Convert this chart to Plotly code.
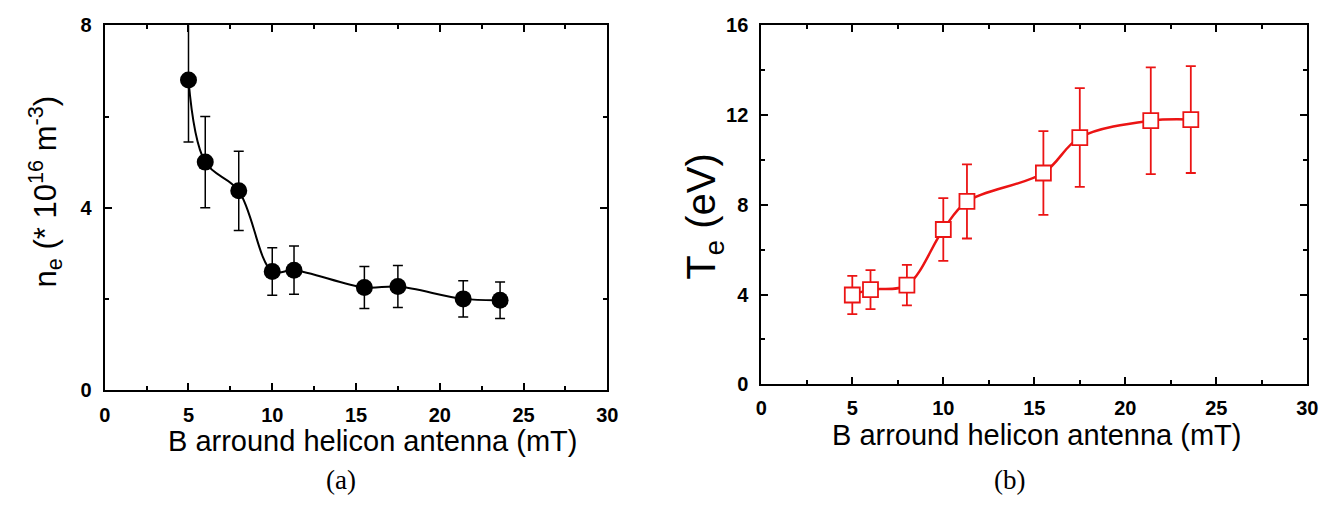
import plotly.graph_objects as go

# ---- data ----
B_field = [5, 6, 8, 10, 11.3, 15.5, 17.5, 21.4, 23.6]
n_e = [6.8, 5.0, 4.37, 2.6, 2.63, 2.25, 2.27, 2.0, 1.97]
n_e_err = [1.36, 1.0, 0.87, 0.52, 0.53, 0.46, 0.46, 0.4, 0.4]
T_e = [3.98, 4.22, 4.42, 6.9, 8.15, 9.42, 11.0, 11.75, 11.8]
T_e_err = [0.85, 0.87, 0.9, 1.4, 1.65, 1.87, 2.2, 2.38, 2.38]

x_ticks = [0, 5, 10, 15, 20, 25, 30]
ne_ticks = [0, 4, 8]
te_ticks = [0, 4, 8, 12, 16]

RED = "rgb(235,20,20)"
W, H = 1341, 514

fig = go.Figure()

fig.add_trace(go.Scatter(
    x=B_field, y=n_e, mode="lines+markers",
    line=dict(color="black", width=2, shape="spline", smoothing=1.0),
    marker=dict(symbol="circle", size=17, color="black"),
    error_y=dict(type="data", array=n_e_err, visible=True, color="black",
                 thickness=1.5, width=5),
    xaxis="x", yaxis="y", showlegend=False,
))

fig.add_trace(go.Scatter(
    x=B_field, y=T_e, mode="lines+markers",
    line=dict(color=RED, width=2.5, shape="spline", smoothing=1.0),
    marker=dict(symbol="square", size=15, color="white",
                line=dict(color=RED, width=1.8)),
    error_y=dict(type="data", array=T_e_err, visible=True, color=RED,
                 thickness=1.8, width=5),
    xaxis="x2", yaxis="y2", showlegend=False,
))


def tf():
    return dict(family="Liberation Sans", size=20, color="black", weight="bold")


def xaxis(domain, anchor, standoff):
    return dict(
        domain=domain, anchor=anchor, range=[0, 30],
        tickmode="array", tickvals=x_ticks, ticktext=[str(v) for v in x_ticks],
        ticks="inside", ticklen=7, tickwidth=2, tickcolor="black",
        minor=dict(ticks="inside", dtick=2.5, ticklen=4, tickwidth=2, tickcolor="black"),
        showline=True, linecolor="black", linewidth=2, mirror="ticks",
        showgrid=False, zeroline=False, tickfont=tf(),
        ticklabelstandoff=standoff,
    )


def yaxis(domain, anchor, rng, tv, minor_dtick):
    return dict(
        domain=domain, anchor=anchor, range=rng,
        tickmode="array", tickvals=tv, ticktext=[str(v) for v in tv],
        ticks="inside", ticklen=7, tickwidth=2, tickcolor="black",
        minor=dict(ticks="inside", dtick=minor_dtick, ticklen=4, tickwidth=2, tickcolor="black"),
        showline=True, linecolor="black", linewidth=2, mirror="ticks",
        showgrid=False, zeroline=False, tickfont=tf(),
        ticklabelstandoff=7,
    )


left_x = [100 / W, 609 / W]
right_x = [765 / W, 1318 / W]
left_y = [1 - 396 / H, 1 - 15 / H]
right_y = [1 - 390 / H, 1 - 15 / H]

fig.update_layout(
    width=W, height=H,
    margin=dict(l=0, r=0, t=0, b=0),
    paper_bgcolor="white", plot_bgcolor="white",
    font=dict(family="Liberation Sans", size=18, color="black"),
    xaxis=xaxis(left_x, "y", 6),
    yaxis=yaxis(left_y, "x", [0, 8], ne_ticks, 2),
    xaxis2=xaxis(right_x, "y2", 5),
    yaxis2=yaxis(right_y, "x2", [0, 16], te_ticks, 2),
)

ann = [
    dict(text="B arround helicon antenna (mT)", x=371 / W, y=1 - 449 / H,
         font=dict(family="Liberation Sans", size=29, color="black")),
    dict(text="B arround helicon antenna (mT)", x=1044 / W, y=1 - 443 / H,
         font=dict(family="Liberation Sans", size=29, color="black")),
    dict(text="n<sub>e</sub> (* 10<sup>16</sup> m<sup>-3</sup>)", x=40 / W, y=1 - 188 / H,
         textangle=-90, font=dict(family="Liberation Sans", size=31, color="black")),
    dict(text="T<sub>e</sub> (eV)", x=707 / W, y=1 - 215 / H,
         textangle=-90, font=dict(family="Liberation Sans", size=40, color="black")),
    dict(text="(a)", x=339 / W, y=1 - 490 / H,
         font=dict(family="Liberation Serif", size=27, color="black")),
    dict(text="(b)", x=1016 / W, y=1 - 490 / H,
         font=dict(family="Liberation Serif", size=27, color="black")),
]
for a in ann:
    a.update(xref="paper", yref="paper", showarrow=False, xanchor="center", yanchor="middle")
fig.update_layout(annotations=ann)

fig.write_html("out.html")
